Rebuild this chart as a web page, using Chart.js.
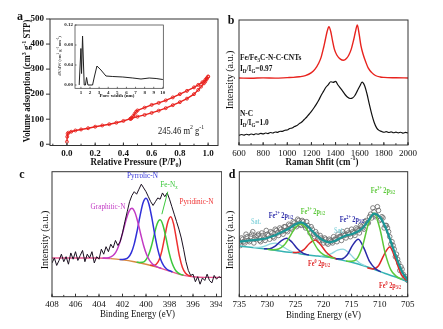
<!DOCTYPE html>
<html lang="en">
<head>
<meta charset="UTF-8">
<title>Fe/Fe3C-N-C-CNTs characterization</title>
<script src="https://cdn.jsdelivr.net/npm/chart.js"></script>
<style>
  html, body { margin: 0; padding: 0; background: #fff; }
  #wrap { position: relative; width: 443px; height: 329px; overflow: hidden; }
  canvas { position: absolute; left: 0; top: 0; }
</style>
</head>
<body>
<div id="wrap">
  <canvas id="chartA" width="443" height="329"></canvas>
  <canvas id="chartB" width="443" height="329"></canvas>
  <canvas id="chartC" width="443" height="329" style="clip-path: inset(0 221px 0 0);"></canvas>
  <canvas id="chartD" width="443" height="329"></canvas>
  <canvas id="chartInset" width="443" height="329"></canvas>
</div>
<script>
const FONT = "'Liberation Serif', 'Times New Roman', serif";
const W = 443, H = 329;

// ---- a: N2 isotherm (P/P0, cm3/g) ----
const aAds = [[0,10],[0.002,30],[0.005,42],[0.01,46],[0.03,50],[0.06,55],[0.1,59],[0.15,64],[0.2,70],[0.25,75],
  [0.3,80],[0.35,86],[0.4,93],[0.45,102],[0.5,110],[0.55,117],[0.6,125],[0.65,134],[0.7,144],[0.75,156],
  [0.8,168],[0.85,182],[0.9,200],[0.93,217],[0.95,230],[0.97,243],[0.98,250],[0.99,260],[1.0,270]];
const aDes = [[1.0,270],[0.99,264],[0.98,257],[0.96,248],[0.93,237],[0.9,227],[0.85,213],[0.8,200],[0.75,187],[0.7,175],
  [0.65,165],[0.6,157],[0.55,146],[0.5,135],[0.49,130],[0.48,122],[0.47,113],[0.46,106],[0.455,103],[0.45,101]];
const aXTicks = [0, 0.2, 0.4, 0.6, 0.8, 1.0];
const aYTicks = [0, 100, 200, 300, 400, 500];

// inset: pore size distribution
const psd = [[0.81,0],[1.0,0.073],[1.07,0.023],[1.18,0.098],[1.36,0],[1.5,0],[1.62,0.015],[1.77,0],[2.0,0],[2.28,0],
  [2.47,0.016],[2.76,0.038],[3.2,0.030],[3.75,0.018],[4.5,0.017],[5.6,0.016],[6.7,0.014],[7.6,0.012],[8.5,0.014],[9.26,0.013],[10.0,0.011]];
const psdXTicks = [1, 2, 3, 4, 5, 6, 7, 8, 9, 10];
const psdYTicks = [0, 0.04, 0.08, 0.12];

// ---- b: Raman ----
const bCnt = [[600,53.6],[700,53.4],[800,53.7],[900,53.5],[1000,53.9],[1050,54.1],[1100,54.6],[1150,55.5],[1200,57.9],[1230,60.7],
  [1260,65.4],[1280,70.1],[1300,77.6],[1315,84.2],[1330,90.8],[1345,94.6],[1360,90.8],[1375,83.3],[1390,76.7],[1410,72.0],
  [1440,68.7],[1465,67.8],[1490,69.2],[1510,72.0],[1530,76.7],[1550,84.2],[1565,90.8],[1580,96.0],[1595,88.9],[1610,79.5],
  [1630,72.0],[1650,66.4],[1670,61.7],[1700,57.9],[1730,55.6],[1770,54.4],[1800,54.1],[1900,53.8],[2000,53.6]];
const bNC = [[600,7.6],[620,8.4],[640,7.9],[660,8.6],[680,8.1],[700,8.8],[720,8.3],[740,9.0],[760,8.6],[780,9.3],
  [800,8.9],[820,9.6],[840,9.1],[860,10.0],[880,9.6],[900,10.4],[920,10.1],[940,11.0],[960,10.9],[980,11.8],
  [1000,12.0],[1020,13.2],[1040,13.6],[1060,14.8],[1080,15.6],[1100,17.1],[1120,18.4],[1140,20.4],[1160,22.2],[1180,24.6],
  [1200,26.9],[1220,29.6],[1240,32.5],[1260,35.8],[1280,39.6],[1300,42.9],[1320,46.2],[1340,48.3],[1360,50.6],[1380,50.1],
  [1400,50.9],[1420,48.0],[1440,45.5],[1460,42.9],[1480,40.2],[1500,38.2],[1520,37.2],[1540,37.6],[1560,39.6],[1580,43.3],
  [1600,47.0],[1620,50.3],[1640,47.6],[1660,41.0],[1680,32.5],[1700,24.5],[1720,18.0],[1740,13.7],[1760,11.7],[1780,10.9],
  [1800,10.2],[1820,10.7],[1840,10.0],[1860,10.5],[1880,9.8],[1900,10.3],[1920,9.7],[1940,10.2],[1960,9.5],[1980,10.1],[2000,9.6]];
const bXTicks = [600, 800, 1000, 1200, 1400, 1600, 1800, 2000];

// ---- c: N 1s XPS ----
const cScan = [[408.0,27],[407.8,31],[407.6,25],[407.4,29],[407.2,34],[407.0,28],[406.8,32],[406.6,26],[406.4,35],[406.2,30],
  [406.0,36],[405.8,29],[405.6,33],[405.4,37],[405.2,28],[405.0,34],[404.8,31],[404.6,36],[404.4,27],[404.2,32],
  [404.0,30],[403.8,38],[403.6,34],[403.4,40],[403.2,36],[403.0,42],[402.8,39],[402.6,45],[402.4,41],[402.2,44],
  [402.0,51],[401.8,60],[401.6,68],[401.4,76],[401.2,81],[401.0,84],[400.8,82],[400.6,86],[400.4,90],[400.2,87],
  [400.0,84],[399.8,80],[399.6,76],[399.4,73],[399.2,76],[399.0,79],[398.8,78],[398.6,83],[398.4,80],[398.2,83],
  [398.0,78],[397.8,72],[397.6,66],[397.4,60],[397.2,54],[397.0,47],[396.8,38],[396.6,28],[396.4,21],[396.2,17],
  [396.0,18],[395.8,12],[395.6,16],[395.4,10],[395.2,15],[395.0,13],[394.8,18],[394.6,13],[394.4,11],[394.2,17],
  [394.0,14],[393.8,16],[393.6,15]];
const cBase = [[408,31],[404,31],[403,30.5],[402,29.5],[401,28],[400,26],[399,23.5],[398,20.5],[397,17.5],[396,16],[395,15.5],[393.5,15.5]];
const cGraphitic = [[403.7,30.9],[403.45,30.9],[403.2,31.2],[402.95,32.0],[402.7,33.9],[402.45,37.8],[402.2,44.1],[401.95,52.5],
  [401.7,61.4],[401.45,68.3],[401.2,70.7],[400.95,67.5],[400.7,59.8],[400.45,50.0],[400.2,40.8],[399.95,33.7],[399.7,29.0],
  [399.45,26.2],[399.2,24.6],[398.95,23.5],[398.7,22.7]];
const cPyrrolic = [[402.25,29.8],[402.0,29.8],[401.75,30.1],[401.5,31.6],[401.25,35.3],[401.0,42.3],[400.75,52.9],[400.5,65.1],
  [400.25,75.1],[400.0,78.7],[399.75,74.0],[399.5,62.8],[399.25,49.5],[399.0,37.8],[398.75,29.7],[398.5,24.8],[398.25,22.2],
  [398.0,20.8],[397.75,19.8]];
const cFeNx = [[400.8,27.6],[400.55,27.4],[400.3,27.5],[400.05,29.0],[399.8,32.9],[399.55,40.1],[399.3,49.8],[399.05,58.4],
  [398.8,61.5],[398.55,57.0],[398.3,47.0],[398.05,35.9],[397.8,27.3],[397.55,22.1],[397.3,19.3],[397.05,17.9],[396.8,17.25]];
const cPyridinic = [[399.65,25.2],[399.4,25.0],[399.15,25.8],[398.9,29.1],[398.65,36.7],[398.4,48.3],[398.15,59.6],[397.9,64.0],
  [397.65,58.1],[397.4,45.3],[397.15,32.2],[396.9,23.3],[396.65,18.9],[396.4,17.1],[396.15,16.3]];
const cXTicks = [408, 406, 404, 402, 400, 398, 396, 394];

// ---- d: Fe 2p XPS ----
const dScan = [[735.0,43],[734.6,47],[734.2,44],[733.8,50],[733.4,45],[733.0,48],[732.6,52],[732.2,46],[731.8,49],[731.4,45],
  [731.0,51],[730.6,47],[730.2,53],[729.8,49],[729.4,52],[729.0,48],[728.6,54],[728.2,51],[727.8,55],[727.4,52],
  [727.0,56],[726.6,53],[726.2,58],[725.8,55],[725.4,60],[725.0,57],[724.6,62],[724.2,58],[723.8,61],[723.4,57],
  [723.0,60],[722.6,54],[722.2,56],[721.8,50],[721.4,52],[721.0,47],[720.6,49],[720.2,45],[719.8,47],[719.4,43],
  [719.0,46],[718.6,44],[718.2,48],[717.8,46],[717.4,50],[717.0,48],[716.6,52],[716.2,49],[715.8,53],[715.4,50],
  [715.0,54],[714.6,51],[714.2,55],[713.8,53],[713.4,57],[713.0,55],[712.6,60],[712.2,59],[711.8,64],[711.4,63],
  [711.0,68],[710.6,65],[710.2,69],[709.8,62],[709.4,63],[709.0,57],[708.6,55],[708.2,48],[707.8,44],[707.4,38],
  [707.0,34],[706.6,27],[706.2,24],[705.8,18],[705.4,16],[705.0,13],
  [734.8,41],[734.4,46],[734.0,43],[733.6,48],[733.2,44],[732.8,50],[732.4,43],[732.0,48],[731.6,50],[731.2,44],
  [730.8,49],[730.4,45],[730.0,50],[729.6,46],[729.2,51],[728.8,47],[728.4,53],[728.0,49],[727.6,54],[727.2,50],
  [726.8,56],[726.4,52],[726.0,57],[725.6,54],[725.2,59],[724.8,56],[724.4,61],[724.0,57],[723.6,60],[723.2,55],
  [722.8,57],[722.4,51],[722.0,54],[721.6,48],[721.2,50],[720.8,45],[720.4,47],[720.0,43],[719.6,46],[719.2,42],
  [718.8,45],[718.4,43],[718.0,46],[717.6,44],[717.2,48],[716.8,45],[716.4,50],[716.0,47],[715.6,51],[715.2,48],
  [714.8,52],[714.4,49],[714.0,54],[713.6,51],[713.2,56],[712.8,54],[712.4,61],[712.0,59],[711.6,66],[711.2,71],
  [710.8,64],[710.4,72],[710.0,61],[709.6,64],[709.2,55],[708.8,57],[708.4,52],[708.0,42],[707.6,41],[707.2,32],
  [706.8,30],[706.4,21],[706.0,22],[705.6,15],[705.2,14]];
const dEnvelope = [[735,44],[734,44.5],[733,45],[732,45.5],[731,46],[730,47],[729,48.5],[728,50.5],[727,52.5],[726,55],
  [725,58],[724,59.5],[723,57],[722,52.5],[721,48],[720,45],[719,43.5],[718,44.5],[717,47],[716,49],
  [715,50],[714,52],[713,55],[712,61],[711,66.5],[710,64],[709,56],[708,44],[707,31],[706,20],[705,13]];
const dBackground = [[735,40.6],[733,39.5],[731,38.5],[729,37.3],[727,36.0],[725,35.0],[723,33.5],[721,32.5],
  [719,31.5],[717,29.5],[715,27.5],[713,25.0],[711,22.0],[709,18.5],[707,15.5],[705,12.0]];
const dFe3Half = [[730,37.9],[729,37.6],[728,38.2],[727,41.3],[726,48],[725,55.5],[724,58.2],[723,54],[722,45.5],[721,37.8],[720,33.6],[719,31.8],[718,30.6]];
const dFe3Three = [[716,28.5],[715,28.3],[714,30.7],[713,41.2],[712,58.4],[711,67],[710,55.1],[709,34.7],[708,21.5],[707,16.3],[706,13.8]];
const dFe2Half = [[730.6,38.4],[729.6,38.4],[728.6,40.4],[727.6,44.5],[726.6,46.8],[725.6,43.6],[724.6,38.1],[723.6,34.6],[722.6,33.3]];
const dFe2Three = [[717.8,30.4],[716.8,30.2],[715.8,33.3],[714.8,41.3],[713.8,46.0],[712.8,38.8],[711.8,28.2],[710.8,22.6],[709.8,19.9]];
const dFe0Half = [[725.5,35.3],[724.5,35.5],[723.5,37.7],[722.5,42.6],[721.5,45.3],[720.5,41.5],[719.5,35.6],[718.5,31.9],[717.5,30.0]];
const dFe0Three = [[712.2,23.2],[711.2,22.2],[710.2,24.8],[709.2,33.7],[708.2,39.8],[707.2,30.3],[706.2,18.3],[705.2,12.8]];
const dSat1 = [[732.5,39.4],[731.5,39.4],[730.5,40.4],[729.5,42.2],[728.5,42.9],[727.5,40.9],[726.5,38.0],[725.5,35.9],[724.5,34.7]];
const dSat2 = [[720.5,32.5],[719.5,33.0],[718.5,34.7],[717.5,37.2],[716.5,38.0],[715.5,35.2],[714.5,30.5],[713.5,26.8],[712.5,24.6]];
const dXTicks = [735, 730, 725, 720, 715, 710, 705];

// colours
const RED = '#e8231e';
const MAG = '#c23ac4', BLUE = '#3030d8', GREEN = '#3cc83c', CRED = '#ee3030', PINK = '#e85590', ORANGE = '#d88a40';
const TEAL = '#1b9696', TEAL2 = '#35b3b3', DGREEN = '#5cc83a', DBLUE = '#2a2aa8', DRED = '#e02828', CYAN = '#8ed6de';

// tick marks / frame per canvas
const FRAMES = {
  chartA: {xMajor: 0.2, xMinor: 0.1, xLen: 3, yMajor: 100, yLen: -4},
  chartInset: {xMajor: 1, xLen: 1.5, yMajor: 0.04, yLen: 1.5, lw: 0.7, bg: '#fff'},
  chartB: {xMajor: 200, xMinor: 100, xLen: 3},
  chartC: {xMajor: 2, xMinor: 1, xLen: 3},
  chartD: {xMajor: 5, xMinor: 1, xLen: 3}
};

const LBL = {size: 7.5, bold: true, sx: 0.82};
const TEXTS = {
  chartA: [
    {t: 'a', x: 20, y: 17, size: 12, bold: true},
    {t: 'Volume adsorption (cm^{3} g^{-1} STP)', x: 28, y: 81, rot: -90, size: 9.5, bold: true, sx: 0.92},
    {t: 'Relative Pressure (P/P_{0})', x: 136, y: 162, size: 10.5, bold: true, sx: 0.85},
    {t: '245.46 m^{2} g^{-1}', x: 181, y: 131, size: 10, sx: 0.85}
  ],
  chartInset: [
    {t: 'dV/dW (cm^{3} g^{-1} nm^{-1})', x: 59.5, y: 56, rot: -90, size: 4.5},
    {t: 'Pore width (nm)', x: 117, y: 95.5, size: 5, bold: true}
  ],
  chartB: [
    {t: 'b', x: 231, y: 21, size: 12, bold: true},
    {t: 'Intensity (a.u.)', x: 230, y: 80, rot: -90, size: 10},
    {t: 'Raman Shfit (cm^{-1})', x: 322, y: 162, size: 10.5, bold: true, sx: 0.85},
    {t: 'Fe/Fe_{3}C-N-C-CNTs', x: 240, y: 58, align: 'left', size: 9, bold: true, sx: 0.82},
    {t: 'I_{D}/I_{G}=0.97', x: 240, y: 69, align: 'left', size: 9, bold: true, sx: 0.82},
    {t: 'N-C', x: 240, y: 114, align: 'left', size: 9, bold: true, sx: 0.82},
    {t: 'I_{D}/I_{G}=1.0', x: 240, y: 122.5, align: 'left', size: 9, bold: true, sx: 0.82}
  ],
  chartC: [
    {t: 'c', x: 22, y: 175, size: 12, bold: true},
    {t: 'Intensity (a.u.)', x: 45, y: 240, rot: -90, size: 10},
    {t: 'Binding Energy (eV)', x: 137.5, y: 314.5, size: 10.5, sx: 0.85},
    {t: 'Graphitic-N', x: 108, y: 207, size: 8.5, sx: 0.85, color: MAG},
    {t: 'Pyrrolic-N', x: 142.5, y: 176, size: 8.5, sx: 0.85, color: BLUE},
    {t: 'Fe-N_{x}', x: 169, y: 185, size: 8.5, sx: 0.85, color: GREEN},
    {t: 'Pyridinic-N', x: 196.5, y: 202, size: 8.5, sx: 0.85, color: CRED}
  ],
  chartD: [
    {t: 'd', x: 232, y: 175, size: 12, bold: true},
    {t: 'Intensity (a.u.)', x: 230, y: 240, rot: -90, size: 10},
    {t: 'Binding Energy (eV)', x: 323.5, y: 315, size: 10.5, sx: 0.85},
    Object.assign({t: 'Fe^{3+} 2p_{3/2}', x: 383, y: 191, color: DGREEN}, LBL),
    Object.assign({t: 'Fe^{3+} 2p_{1/2}', x: 313, y: 212, color: DGREEN}, LBL),
    Object.assign({t: 'Fe^{2+} 2p_{1/2}', x: 281, y: 216, color: DBLUE}, LBL),
    Object.assign({t: 'Fe^{2+} 2p_{3/2}', x: 352, y: 220, color: DBLUE}, LBL),
    Object.assign({t: 'Sat.', x: 256, y: 222, color: CYAN}, LBL),
    Object.assign({t: 'Sat.', x: 339, y: 231, color: CYAN}, LBL),
    Object.assign({t: 'Fe^{0} 2p_{1/2}', x: 319, y: 264, color: DRED}, LBL),
    Object.assign({t: 'Fe^{0} 2p_{3/2}', x: 390, y: 286, color: DRED}, LBL)
  ]
};

// pointer line (data coordinates)
const POINTERS = {
  chartC: [{x1: 398.15, y1: 84, x2: 398.65, y2: 66, color: GREEN}]
};

function pts(list) { return list.map(p => ({x: p[0], y: p[1]})); }

function parseRich(s) {
  const out = [], re = /([_^])\{([^}]*)\}/g;
  let last = 0, m;
  while ((m = re.exec(s))) {
    if (m.index > last) out.push({t: s.slice(last, m.index), k: 0});
    out.push({t: m[2], k: m[1] === '_' ? 1 : -1});
    last = re.lastIndex;
  }
  if (last < s.length) out.push({t: s.slice(last), k: 0});
  return out;
}

function drawRich(ctx, it) {
  const size = it.size || 10, wt = it.bold ? 'bold ' : '';
  const font = k => wt + (k ? size * 0.68 : size) + 'px ' + FONT;
  const parts = parseRich(it.t);
  let w = 0;
  parts.forEach(p => { ctx.font = font(p.k); p.w = ctx.measureText(p.t).width; w += p.w; });
  ctx.save();
  ctx.translate(it.x, it.y);
  if (it.rot) ctx.rotate(it.rot * Math.PI / 180);
  ctx.scale(it.sx || 1, 1);
  ctx.fillStyle = it.color || '#111';
  ctx.textBaseline = 'middle';
  ctx.textAlign = 'left';
  let cx = it.align === 'left' ? 0 : (it.align === 'right' ? -w : -w / 2);
  parts.forEach(p => {
    ctx.font = font(p.k);
    const dy = p.k > 0 ? size * 0.28 : (p.k < 0 ? -size * 0.36 : 0);
    ctx.fillText(p.t, cx, dy);
    cx += p.w;
  });
  ctx.restore();
}

const framePlugin = {
  id: 'frame',
  beforeDatasetsDraw(chart) {
    const f = FRAMES[chart.canvas.id];
    if (!f || !f.bg) return;
    const a = chart.chartArea, ctx = chart.ctx;
    ctx.save();
    ctx.fillStyle = f.bg;
    ctx.fillRect(a.left, a.top, a.right - a.left, a.bottom - a.top);
    ctx.restore();
  },
  afterDatasetsDraw(chart) {
    const f = FRAMES[chart.canvas.id];
    if (!f) return;
    const {ctx, chartArea: a, scales} = chart;
    ctx.save();
    ctx.strokeStyle = '#333';
    ctx.lineWidth = f.lw || 1;
    ctx.strokeRect(a.left, a.top, a.right - a.left, a.bottom - a.top);
    ctx.beginPath();
    function marks(scale, step, len, horiz) {
      if (!step) return;
      const lo = Math.min(scale.min, scale.max), hi = Math.max(scale.min, scale.max);
      for (let i = Math.ceil(lo / step - 1e-6); i * step <= hi + 1e-9; i++) {
        const p = scale.getPixelForValue(i * step);
        if (horiz) { ctx.moveTo(p, a.bottom); ctx.lineTo(p, a.bottom - len); }
        else { ctx.moveTo(a.left, p); ctx.lineTo(a.left + len, p); }
      }
    }
    marks(scales.x, f.xMajor, f.xLen, true);
    marks(scales.x, f.xMinor, (f.xLen || 3) * 0.6, true);
    marks(scales.y, f.yMajor, f.yLen, false);
    ctx.stroke();
    (POINTERS[chart.canvas.id] || []).forEach(l => {
      ctx.beginPath();
      ctx.strokeStyle = l.color;
      ctx.lineWidth = 1;
      ctx.moveTo(scales.x.getPixelForValue(l.x1), scales.y.getPixelForValue(l.y1));
      ctx.lineTo(scales.x.getPixelForValue(l.x2), scales.y.getPixelForValue(l.y2));
      ctx.stroke();
    });
    ctx.restore();
  },
  afterDraw(chart) {
    (TEXTS[chart.canvas.id] || []).forEach(it => drawRich(chart.ctx, it));
  }
};
Chart.register(framePlugin);

function fixedTicks(vals) { return s => { s.ticks = vals.map(v => ({value: v})); }; }

function makeChart(id, area, xs, ys, datasets) {
  const axis = {type: 'linear', grid: {display: false, drawTicks: false}, border: {display: false}};
  return new Chart(document.getElementById(id), {
    type: 'line',
    data: {datasets: datasets},
    options: {
      responsive: false,
      animation: false,
      events: [],
      layout: {padding: {left: 0, top: area.top, right: W - area.right, bottom: 0}},
      plugins: {legend: {display: false}, tooltip: {enabled: false}},
      elements: {point: {radius: 0}, line: {tension: 0, fill: false}},
      scales: {
        x: Object.assign({}, axis, {afterFit: s => { s.height = H - area.bottom; }}, xs),
        y: Object.assign({}, axis, {afterFit: s => { s.width = area.left; }}, ys)
      }
    }
  });
}

function curve(list, color, width, extra) {
  return Object.assign({data: pts(list), borderColor: color, borderWidth: width, pointRadius: 0,
    cubicInterpolationMode: 'monotone', tension: 0.4}, extra || {});
}

const tickFont = {family: FONT, size: 9};
const tickFontBold = {family: FONT, size: 9, weight: 'bold'};
const plain = v => String(v);
const noY = {min: 0, max: 100, ticks: {display: false}};

// a
makeChart('chartA', {left: 50, right: 218, top: 19, bottom: 145.5},
  {min: -0.12, max: 1.07, afterBuildTicks: fixedTicks(aXTicks),
   ticks: {font: tickFontBold, color: '#111', padding: 3, maxRotation: 0, autoSkip: false, callback: v => v.toFixed(1)}},
  {min: -5, max: 500, afterBuildTicks: fixedTicks(aYTicks),
   ticks: {font: tickFontBold, color: '#111', padding: 6, callback: plain}},
  [
    {data: pts(aAds), borderColor: RED, borderWidth: 1.4, pointRadius: 1.5, pointBorderWidth: 0.9,
     pointBorderColor: RED, pointBackgroundColor: 'rgba(0,0,0,0)'},
    {data: pts(aDes), borderColor: RED, borderWidth: 1.4, pointRadius: 1.5, pointBorderWidth: 0.9,
     pointBorderColor: RED, pointBackgroundColor: 'rgba(0,0,0,0)'}
  ]);

// inset
makeChart('chartInset', {left: 75, right: 163.3, top: 25, bottom: 88.3},
  {min: 0.35, max: 10.05, afterBuildTicks: fixedTicks(psdXTicks),
   ticks: {font: {family: FONT, size: 5, weight: 'bold'}, color: '#222', padding: 1, maxRotation: 0, autoSkip: false, callback: plain}},
  {min: -0.0066, max: 0.12, afterBuildTicks: fixedTicks(psdYTicks),
   ticks: {font: {family: FONT, size: 5, weight: 'bold'}, color: '#222', padding: 2, callback: v => v.toFixed(2)}},
  [{data: pts(psd), borderColor: '#222', borderWidth: 1, pointRadius: 0}]);

// b
makeChart('chartB', {left: 239, right: 408, top: 20, bottom: 145},
  {min: 600, max: 2000, afterBuildTicks: fixedTicks(bXTicks),
   ticks: {font: tickFont, color: '#111', padding: 3, maxRotation: 0, autoSkip: false, callback: plain}},
  noY,
  [curve(bCnt, RED, 1.4), curve(bNC, '#111', 1.2, {tension: 0.2})]);

// c
makeChart('chartC', {left: 52, right: 221.7, top: 171.7, bottom: 296.7},
  {min: 393.56, max: 408, reverse: true, afterBuildTicks: fixedTicks(cXTicks),
   ticks: {font: tickFont, color: '#111', padding: 3, maxRotation: 0, autoSkip: false, callback: plain}},
  noY,
  [
    {data: pts(cScan), borderColor: '#1a1020', borderWidth: 1, pointRadius: 0, tension: 0},
    curve(cGraphitic, MAG, 1.5),
    curve(cPyrrolic, BLUE, 1.5),
    curve(cFeNx, GREEN, 1.5),
    curve(cPyridinic, CRED, 1.5),
    curve(cBase, PINK, 1.4, {segment: {borderColor: c => (c.p0.parsed.x <= 403 && c.p1.parsed.x >= 399) ? ORANGE : undefined}})
  ]);

// d
makeChart('chartD', {left: 239.3, right: 407.7, top: 171.7, bottom: 296.7},
  {min: 705, max: 735, reverse: true, afterBuildTicks: fixedTicks(dXTicks),
   ticks: {font: tickFont, color: '#111', padding: 3, maxRotation: 0, autoSkip: false, callback: plain}},
  noY,
  [
    curve(dEnvelope, TEAL, 2.2),
    curve(dFe3Three, DGREEN, 1.5),
    curve(dFe3Half, DGREEN, 1.5),
    curve(dFe2Half, DBLUE, 1.5),
    curve(dFe2Three, DBLUE, 1.5),
    curve(dFe0Half, DRED, 1.5),
    curve(dFe0Three, DRED, 1.5),
    curve(dSat1, CYAN, 1.3),
    curve(dSat2, CYAN, 1.3),
    curve(dBackground, TEAL2, 1.5),
    {data: pts(dScan), showLine: false, pointRadius: 2.3, pointBorderWidth: 0.8,
     pointBorderColor: '#666', pointBackgroundColor: 'rgba(0,0,0,0)'}
  ]);
</script>
</body>
</html>
